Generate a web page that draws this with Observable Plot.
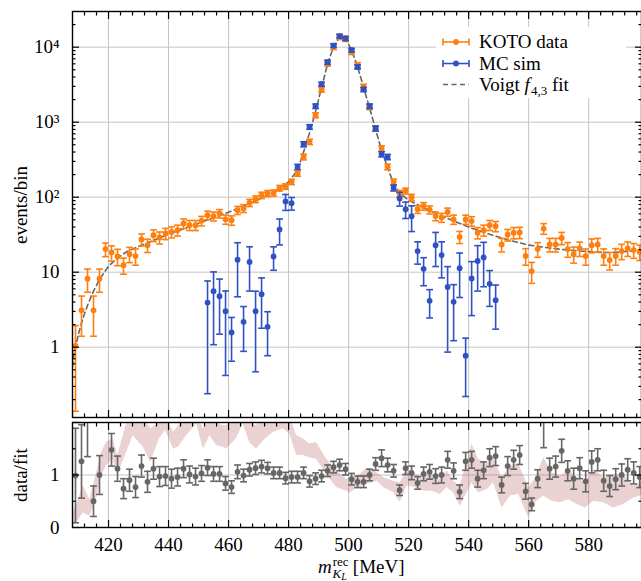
<!DOCTYPE html>
<html><head><meta charset="utf-8">
<script src="https://cdn.jsdelivr.net/npm/d3@7"></script>
<script src="https://cdn.jsdelivr.net/npm/@observablehq/plot@0.6"></script>
<style>
html,body{margin:0;padding:0;background:#fff;overflow:hidden}
#chart{position:relative;width:641px;height:581px}
#chart svg{display:block}
</style></head><body><div id="chart"></div>
<script>
// ---------- data ----------
const mass = [409,411,413,415,417,419,421,423,425,427,429,431,433,435,437,439,441,443,445,447,449,451,453,455,457,459,461,463,465,467,469,471,473,475,477,479,481,483,485,487,489,491,493,495,497,499,501,503,505,507,509,511,513,515,517,519,521,523,525,527,529,531,533,535,537,539,541,543,545,547,549,551,553,555,557,559,561,563,565,567,569,571,573,575,577,579,581,583,585,587,589,591,593,595,597];
const koto = [1.04,3.1,8.2,3.1,8.2,20.3,18.3,16.2,12.4,17.4,
  16.4,27.3,22.9,31.1,29.0,32.8,34.4,36.3,44.6,42.4,
  42.4,48.4,57.5,55.8,60.6,50.6,49.3,67,70.9,84.3,
  94.2,106,112,114,132,139,160,207,344,547,
  1239,2730,6050,10090,13740,13000,8670,5750,2960,1600,
  824,446,254,160,112,121,99,69,75.9,68,
  56,53.5,63.5,50.5,29.5,50.5,48,33.6,36.3,42.4,
  41,23.4,31.6,33.6,33.8,16.5,10.3,20.3,38.2,23.4,
  23.4,28.6,20.3,17.4,20.7,16.4,22.9,23.4,16.4,14.5,
  16.5,19.1,20.7,19.7,18.6];
const kotoErr = [0.9,1.7,2.8,1.7,2.8,4.2,4.2,4.0,3.0,4.0,
  4.0,5.0,4.6,5.5,5.3,5.6,5.8,6.0,6.6,6.5,
  6.5,7.0,7.5,7.5,7.8,7.1,7.0,8.2,8.4,9.2,
  9.7,10.3,10.6,10.7,11.5,11.8,13,17,30,45,
  95,210,460,800,1100,1050,700,460,240,130,
  68,38,22,14,11,11,10,8.3,8.7,8.2,
  7.5,7.3,8.0,7.1,5.4,7.1,6.9,5.8,6.0,6.5,
  6.4,4.8,5.6,5.8,5.8,4.1,3.2,4.5,6.2,4.8,
  4.8,5.3,4.5,4.2,4.5,4.0,4.8,4.8,4.0,3.8,
  4.1,4.4,4.5,4.4,4.3];

const mcMass = [453,455,457,459,461,463,465,467,469,471,473,475,477,479,481,483,485,487,489,491,493,495,497,499,501,503,505,507,509,511,513,515,517,519,521,523,525,527,529,531,533,535,537,539,541,543,545,547,549];
const mc = [3.94,5.58,4.79,3.02,1.57,14.7,2.18,13.7,3.02,5.09,
  1.87,16.2,37.1,87.6,83.2,254,509,865,1634,3212,
  6310,10520,14000,13050,9120,5460,2730,1634,824,374,
  344,133,96,69,55.8,19.1,11.1,4.15,22.9,16.9,
  6.36,4.02,11.3,0.77,8.24,14.1,15.7,7.0,4.24];
const mcErr = [3.7,4.5,3.3,2.6,0.92,10,1.3,8.1,2.55,3.3,
  1.1,5.6,14,21,16,20,40,60,110,200,
  400,600,800,750,550,350,180,110,60,30,
  28,12,20,17,21,6.3,4.5,1.7,11,8.5,
  5.5,2.8,6.7,0.55,5.6,8.5,9.3,3.5,2.5];

const fitMass = [408,408.5,409,410,411,412,413,415,417,420,423,426,430,435,440,445,450,455,460,465,470,475,480,483,485,487,489,491,493,495,497,498,499,501,503,505,507,509,511,513,515,517,520,524,527,532,540,547,553,560,567,573,580,585,590,595,597.6];
const fitVal = [0.55,0.8,1.0,1.5,2.1,2.8,3.6,5.6,8.0,12.0,15.5,18.7,22,26.5,32,38,45,53,63,76,93,118,160,230,400,720,1400,2900,6000,10200,13500,13700,13200,9000,5500,2900,1550,800,420,250,150,115,91,76,66,54,40,32,27,23,21,19.7,18.8,18.3,18.4,19.2,19.8];

const ratio = [0.99,1.26,2.35,0.50,1.00,null,1.48,1.12,0.74,0.90,
  0.77,1.17,0.87,1.12,0.97,0.98,0.93,0.96,1.12,1.01,
  0.97,1.03,1.14,1.02,1.02,0.84,0.77,1.06,0.99,1.10,
  1.13,1.16,1.13,1.04,1.04,0.94,0.96,0.96,1.04,0.88,
  0.93,0.98,1.08,1.15,1.19,1.11,0.92,0.87,0.87,1.00,
  1.21,1.32,1.19,1.08,0.71,1.13,1.04,0.85,1.02,1.06,
  0.98,1.00,1.29,1.08,0.68,1.26,1.29,0.93,1.09,1.33,
  1.36,0.81,1.17,1.29,1.38,0.69,0.44,0.93,2.40,1.12,
  1.16,1.46,1.08,0.93,1.13,0.88,1.25,1.29,0.89,0.79,
  0.92,1.00,1.10,1.04,0.96];
const ratioErr = [0.9,0.7,1.0,0.29,0.37,null,0.31,0.24,0.19,0.21,
  0.2,0.21,0.2,0.2,0.19,0.18,0.18,0.17,0.17,0.16,
  0.16,0.15,0.15,0.14,0.14,0.13,0.12,0.13,0.12,0.12,
  0.12,0.12,0.11,0.11,0.11,0.11,0.11,0.11,0.11,0.11,
  0.11,0.11,0.11,0.11,0.11,0.11,0.11,0.11,0.11,0.11,
  0.12,0.16,0.13,0.12,0.1,0.12,0.13,0.12,0.13,0.14,
  0.14,0.15,0.16,0.15,0.13,0.17,0.16,0.16,0.16,0.17,
  0.18,0.15,0.18,0.18,0.18,0.15,0.12,0.17,0.88,0.2,
  0.2,0.22,0.19,0.2,0.2,0.2,0.21,0.21,0.2,0.2,
  0.2,0.21,0.21,0.21,0.2];

const bandMass = [408,409.4,411.6,413.8,416,417.7,419.3,421.5,423.1,426,428.2,431.6,434,437,439,441.7,443.3,446,449.4,451.6,453.8,456,458.2,459.3,462.6,464.9,467,469.3,471.6,474.9,478.2,480.4,482.7,484.9,487.1,489.3,492.7,496,499.4,500.6,502.8,506.1,509.5,511.7,515,517.2,519.5,522.2,525,527.8,530.6,532.8,535,537.2,541.1,543.3,546.1,548.3,551.1,553.9,556.7,560,562.2,565,567.8,570.6,573.3,576.1,578.9,581.7,585,588.3,591.7,595,597.6];
const bandLo = [0.05,0.08,0.28,0.21,0.53,0.98,1.17,1.30,1.01,1.43,1.75,1.53,1.24,1.69,1.85,1.49,1.53,1.75,1.97,1.49,1.75,1.56,1.53,1.49,1.69,1.97,1.62,1.49,1.65,1.81,1.88,1.78,1.37,1.37,1.33,1.30,1.01,0.76,0.69,0.65,0.76,0.82,0.88,0.76,0.66,0.48,0.79,0.76,0.69,0.69,0.63,0.76,0.66,0.40,0.85,0.66,0.72,0.85,0.37,0.60,0.63,0.18,0.47,0.60,0.50,0.47,0.53,0.44,0.37,0.50,0.47,0.37,0.44,0.56,0.60];
const bandHi = [0.28,0.44,0.79,0.53,1.04,1.43,1.62,1.69,1.37,1.97,2.04,2.13,1.88,2.0,2.13,1.81,1.94,2.13,2.13,1.88,2.13,2.0,1.94,1.94,2.07,2.13,2.0,1.94,2.13,2.13,2.13,2.13,1.75,1.69,1.59,1.62,1.30,1.08,0.92,0.95,0.95,1.14,1.04,0.95,0.88,0.85,1.11,1.01,0.95,1.01,0.92,1.08,0.88,0.79,1.59,1.30,1.21,1.33,0.95,1.17,1.21,0.76,0.92,1.33,1.04,0.98,1.08,0.95,0.85,1.11,0.95,1.01,1.01,0.79,0.85];

const xTicks = [420,440,460,480,500,520,540,560,580];
const xMinor = [412,416,424,428,432,436,444,448,452,456,464,468,472,476,484,488,492,496,504,508,512,516,524,528,532,536,544,548,552,556,564,568,572,576,584,588,592,596];
const yTicks = [1,10,100,1000,10000];
const yTickLabels = ["1","10","10\u00B2","10\u00B3","10\u2074"];
const yMinor = [0.2,0.3,0.4,0.5,0.6,0.7,0.8,0.9,2,3,4,5,6,7,8,9,20,30,40,50,60,70,80,90,200,300,400,500,600,700,800,900,2000,3000,4000,5000,6000,7000,8000,9000,20000];
const rTicks = [0,1,2];
const rTickLabels = ["0","1",""];
const rMinor = [0.5,1.5];

// ---------- styling ----------
const ORANGE = "#ff7f0e", BLUE = "#2f51c4", GRAY = "#666666", GRID = "#c4c4c4";
const FONT = "Liberation Serif, DejaVu Serif, serif";
const W = 641, ML = 72, MR = 0;
const XDOM = [408, 597.6];
const cap = {draw(ctx, size){ const w = Math.sqrt(size/Math.PI); ctx.moveTo(-w,0); ctx.lineTo(w,0); }};

const kotoData = mass.map((m,i)=>({m, v: koto[i], lo: Math.max(koto[i]-kotoErr[i], 0.12), hi: koto[i]+kotoErr[i]}));
const mcData = mcMass.map((m,i)=>({m, v: mc[i], lo: Math.max(mc[i]-mcErr[i], 0.12), hi: mc[i]+mcErr[i]}));
const fitData = fitMass.map((m,i)=>({m, v: fitVal[i]}));
const ratioData = mass.map((m,i)=>({m, v: ratio[i], lo: ratio[i]==null?null:ratio[i]-ratioErr[i], hi: ratio[i]==null?null:ratio[i]+ratioErr[i]})).filter(d=>d.v!=null);
const bandData = bandMass.map((m,i)=>({m, lo: bandLo[i], hi: bandHi[i]}));

function errMarks(data, color){
  return [
    Plot.ruleX(data, {x:"m", y1:"lo", y2:"hi", stroke: color, strokeWidth: 1.6, clip: true}),
    Plot.dot(data, {x:"m", y:"lo", symbol: cap, r: 3.4, stroke: color, fill: "none", strokeWidth: 1.6, clip: true}),
    Plot.dot(data, {x:"m", y:"hi", symbol: cap, r: 3.4, stroke: color, fill: "none", strokeWidth: 1.6, clip: true}),
    Plot.dot(data, {x:"m", y:"v", r: 2.9, fill: color, stroke: "none", clip: true})
  ];
}
function tickAxes(kind, vals, size){
  const blank = () => "";
  if (kind === "x") return [
    Plot.axisX(vals, {anchor:"bottom", tickSize:-size, tickFormat: blank, label:null, strokeWidth:1.2}),
    Plot.axisX(vals, {anchor:"top", tickSize:-size, tickFormat: blank, label:null, strokeWidth:1.2})
  ];
  return [
    Plot.axisY(vals, {anchor:"left", tickSize:-size, tickFormat: blank, label:null, strokeWidth:1.2}),
    Plot.axisY(vals, {anchor:"right", tickSize:-size, tickFormat: blank, label:null, strokeWidth:1.2})
  ];
}

const yLab = new Map(yTicks.map((t,i)=>[t, yTickLabels[i]]));
const topPlot = Plot.plot({
  width: W, height: 420, marginTop: 11, marginBottom: 3, marginLeft: ML, marginRight: MR,
  style: {fontFamily: FONT, fontSize: "19px", color: "#000", background: "#fff"},
  x: {domain: XDOM},
  y: {type: "log", domain: [0.1155, 29900]},
  marks: [
    Plot.gridX(xTicks, {stroke: GRID, strokeOpacity: 1, strokeWidth: 1}),
    Plot.gridY(yTicks, {stroke: GRID, strokeOpacity: 1, strokeWidth: 1}),
    Plot.line(fitData, {x:"m", y:"v", stroke: GRAY, strokeWidth: 1.6, strokeDasharray: "5,3.5", clip: true}),
    ...errMarks(kotoData, ORANGE),
    ...errMarks(mcData, BLUE),
    Plot.axisY(yTicks, {anchor:"left", tickSize:0, tickPadding:13, tickFormat: d => yLab.get(d), label:null, fontSize: 19}),
    ...tickAxes("y", yTicks, 7),
    ...tickAxes("y", yMinor, 3.5),
    ...tickAxes("x", xTicks, 7),
    ...tickAxes("x", xMinor, 3.5),
    Plot.frame({stroke: "#000", strokeWidth: 1.4})
  ]
});

const rLab = new Map(rTicks.map((t,i)=>[t, rTickLabels[i]]));
const bottomPlot = Plot.plot({
  width: W, height: 161, marginTop: 2, marginBottom: 54, marginLeft: ML, marginRight: MR,
  style: {fontFamily: FONT, fontSize: "19px", color: "#000", background: "#fff"},
  x: {domain: XDOM},
  y: {domain: [0, 2]},
  marks: [
    Plot.gridX(xTicks, {stroke: GRID, strokeOpacity: 1, strokeWidth: 1}),
    Plot.gridY([1], {stroke: GRID, strokeOpacity: 1, strokeWidth: 1}),
    Plot.areaY(bandData, {x:"m", y1:"lo", y2:"hi", fill: "rgb(178,88,95)", fillOpacity: 0.28, curve: "linear", clip: true}),
    ...errMarks(ratioData, GRAY),
    Plot.axisY(rTicks.filter(t => rLab.get(t) !== ""), {anchor:"left", tickSize:0, tickPadding:13, tickFormat: d => rLab.get(d), label:null, fontSize: 19}),
    Plot.axisX(xTicks, {anchor:"bottom", tickSize:0, tickPadding:10, label:null, fontSize: 19, tickFormat: d => String(d)}),
    ...tickAxes("y", rTicks, 7),
    ...tickAxes("y", rMinor, 3.5),
    ...tickAxes("x", xTicks, 7),
    ...tickAxes("x", xMinor, 3.5),
    Plot.frame({stroke: "#000", strokeWidth: 1.4})
  ]
});

const root = document.getElementById("chart");
root.appendChild(topPlot);
root.appendChild(bottomPlot);

// ---------- text additions: axis titles and legend ----------
const st = d3.select(topPlot), sb = d3.select(bottomPlot);
function txt(sel, x, y, s, opts = {}){
  return sel.append("text").attr("x", x).attr("y", y).attr("font-family", FONT)
    .attr("font-size", opts.size || 19).attr("fill", "#000")
    .attr("text-anchor", opts.anchor || "start").text(s);
}
txt(st, 0, 0, "events/bin", {anchor:"middle"}).attr("transform", "translate(27,205) rotate(-90)");
txt(sb, 0, 0, "data/fit", {anchor:"middle"}).attr("transform", "translate(27,55) rotate(-90)");

// x axis title: m^{rec}_{K_L} [MeV]  (one text element with shifted tspans)
const xt = txt(sb, 318, 153, "");
xt.append("tspan").attr("font-style", "italic").text("m");
xt.append("tspan").attr("font-size", 13).attr("dy", -7).attr("dx", 1).text("rec");
xt.append("tspan").attr("font-size", 13).attr("font-style", "italic").attr("dx", -16).attr("dy", 11.5).text("K");
xt.append("tspan").attr("font-size", 10).attr("font-style", "italic").attr("dy", 2).text("L");
xt.append("tspan").attr("dy", -6.5).attr("dx", 6).text("[MeV]");

// legend
const lg = st.append("g");
lg.append("rect").attr("x", 436).attr("y", 27).attr("width", 190).attr("height", 71).attr("fill", "#fff");
function errSym(y, color){
  lg.append("line").attr("x1", 443).attr("x2", 469).attr("y1", y).attr("y2", y).attr("stroke", color).attr("stroke-width", 1.6);
  lg.append("line").attr("x1", 443).attr("x2", 443).attr("y1", y-3.5).attr("y2", y+3.5).attr("stroke", color).attr("stroke-width", 1.6);
  lg.append("line").attr("x1", 469).attr("x2", 469).attr("y1", y-3.5).attr("y2", y+3.5).attr("stroke", color).attr("stroke-width", 1.6);
  lg.append("circle").attr("cx", 456).attr("cy", y).attr("r", 2.9).attr("fill", color);
}
errSym(42, ORANGE);
errSym(63.5, BLUE);
lg.append("line").attr("x1", 443).attr("x2", 469).attr("y1", 84.5).attr("y2", 84.5).attr("stroke", GRAY).attr("stroke-width", 1.6).attr("stroke-dasharray", "5,3.5");
txt(lg, 479, 48, "KOTO data");
txt(lg, 479, 69.5, "MC sim");
const vt = txt(lg, 479, 90.5, "Voigt ");
vt.append("tspan").attr("font-style", "italic").text("f");
vt.append("tspan").attr("font-size", 13).attr("dy", 4).attr("dx", 1).text("4,3");
vt.append("tspan").attr("dy", -4).text(" fit");
</script>
</body></html>
